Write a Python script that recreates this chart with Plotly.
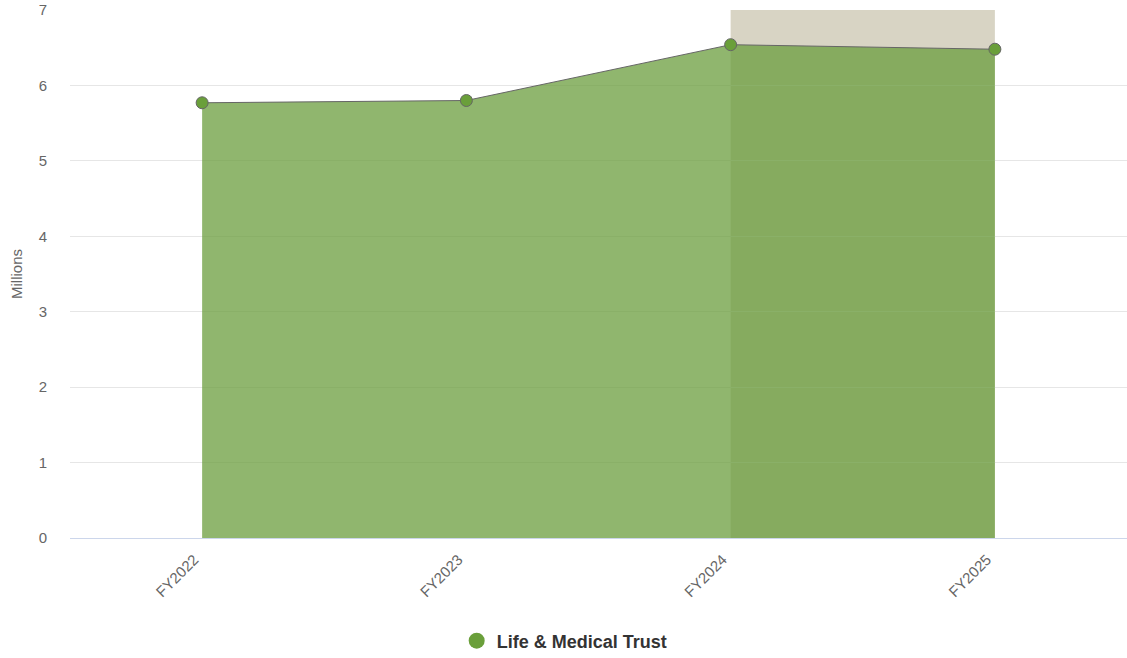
import plotly.graph_objects as go

categories = ["FY2022", "FY2023", "FY2024", "FY2025"]
values = [5.77, 5.80, 6.54, 6.48]
series_name = "Life & Medical Trust"
band_start = "FY2024"
band_end = "FY2025"
y_ticks = [0, 1, 2, 3, 4, 5, 6, 7]

FONT = "Liberation Sans, Arial, sans-serif"
GREEN = "#6a9f3a"

fig = go.Figure()
fig.add_trace(go.Scatter(
    x=categories, y=values, mode="lines+markers", fill="tozeroy",
    fillcolor="rgba(107,158,62,0.75)",
    line=dict(color="#666666", width=1),
    marker=dict(size=12, color=GREEN, line=dict(color="#666666", width=1)),
    showlegend=False, hoverinfo="x+y",
))
fig.add_trace(go.Scatter(
    x=[None], y=[None], mode="markers", name=series_name,
    marker=dict(size=18, color=GREEN), showlegend=True,
))

fig.add_shape(type="rect", xref="x", yref="paper",
              x0=categories.index(band_start), x1=categories.index(band_end),
              y0=0, y1=1, fillcolor="#d8d4c4", line=dict(width=0), layer="below")

fig.update_layout(
    width=1127, height=658,
    margin=dict(l=70, r=0, t=10, b=120, autoexpand=False),
    paper_bgcolor="white", plot_bgcolor="white",
    font=dict(family=FONT, color="#666666", size=15),
    showlegend=True,
    legend=dict(orientation="h", x=0.468, xanchor="center",
                y=-0.195, yanchor="middle",
                font=dict(size=18, color="#333333", family=FONT, weight="bold"),
                itemsizing="trace"),
)
fig.update_xaxes(
    type="category", categoryorder="array", categoryarray=categories,
    range=[-0.5, 3.5], tickangle=-45, showgrid=False,
    showline=True, linecolor="#ccd6eb", linewidth=1, zeroline=False,
    tickfont=dict(size=15, color="#666666"), ticks="",
    ticklabelstandoff=6, ticklabelshift=-8,
)
fig.update_yaxes(
    range=[0, 7], tickvals=y_ticks, showgrid=True, gridcolor="#e6e6e6", gridwidth=1,
    zeroline=False, showline=False,
    title=dict(text="Millions", font=dict(size=15, color="#666666"), standoff=12),
    tickfont=dict(size=15, color="#666666"), ticklabelstandoff=22,
)

fig.write_html("out.html", config={"displayModeBar": False},
               post_script="document.body.style.margin='0';")
